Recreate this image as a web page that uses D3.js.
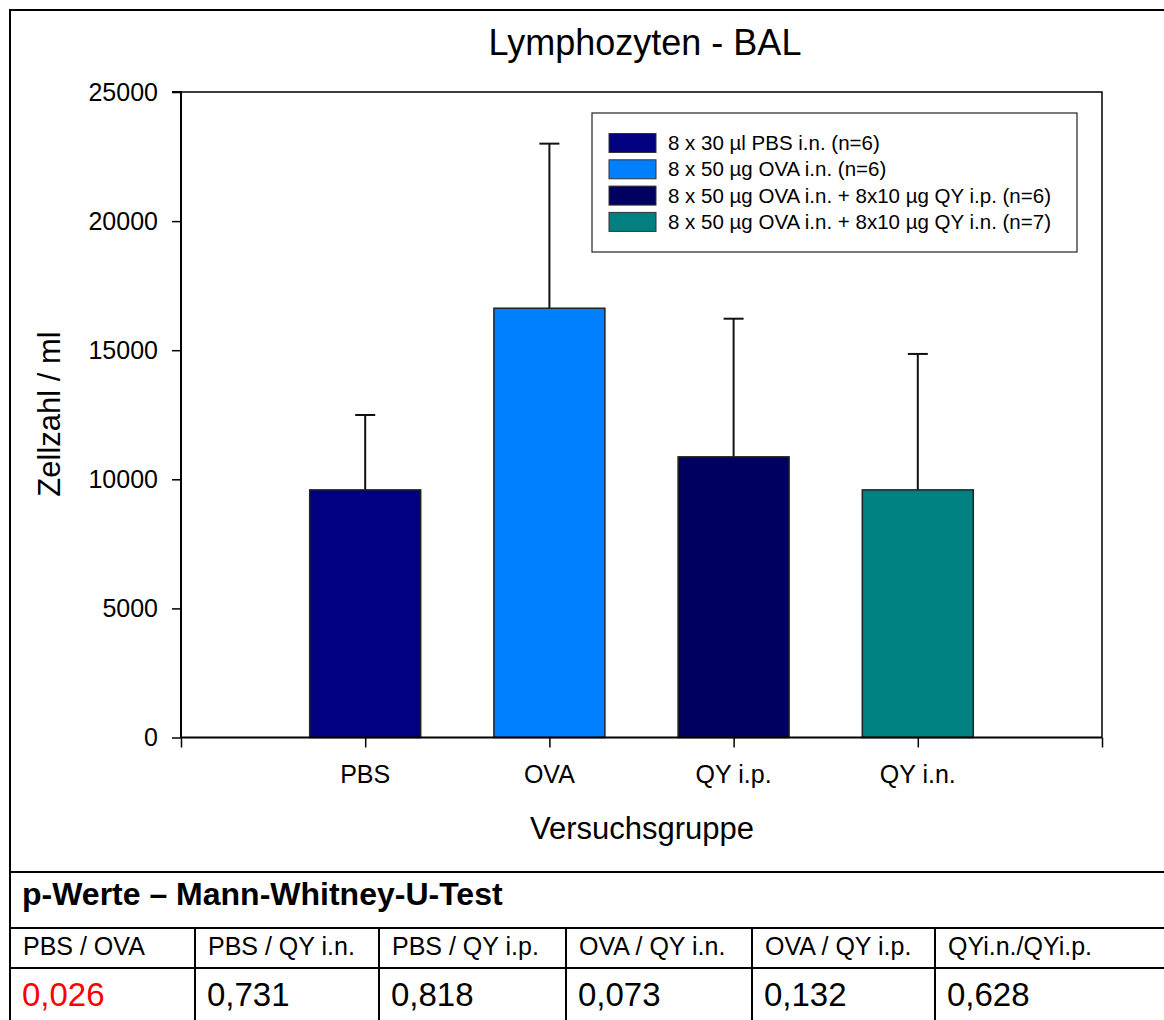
<!DOCTYPE html>
<html>
<head>
<meta charset="utf-8">
<script src="https://cdn.jsdelivr.net/npm/d3@7"></script>
<style>
  html, body { margin: 0; padding: 0; background: #fff; }
  svg { display: block; font-family: "Liberation Sans", Arial, sans-serif; }
</style>
</head>
<body>
<svg id="chart" width="1164" height="1020"></svg>
<script>
// Lymphocyte counts in BAL fluid, mean + SD per group
const groups = ["PBS", "OVA", "QY i.p.", "QY i.n."];
const means = [9590, 16625, 10870, 9590];
const sds = [2900, 6375, 5350, 5265];
const colors = ["#000080", "#0080ff", "#000060", "#008080"];
const legendLabels = [
  "8 x 30 µl PBS i.n. (n=6)",
  "8 x 50 µg OVA i.n. (n=6)",
  "8 x 50 µg OVA i.n. + 8x10 µg QY i.p. (n=6)",
  "8 x 50 µg OVA i.n. + 8x10 µg QY i.n. (n=7)"
];
const yTicks = [0, 5000, 10000, 15000, 20000, 25000];

// p-values of the pairwise Mann-Whitney U tests
const comparisons = ["PBS / OVA", "PBS / QY i.n.", "PBS / QY i.p.", "OVA / QY i.n.", "OVA / QY i.p.", "QYi.n./QYi.p."];
const pValues = ["0,026", "0,731", "0,818", "0,073", "0,132", "0,628"];
const significant = [true, false, false, false, false, false];

const svg = d3.select("#chart");

const plot = { left: 181, right: 1102, top: 92, bottom: 737.5 };

const x = d3.scaleLinear().domain([0, groups.length + 1]).range([plot.left, plot.right]);
const y = d3.scaleLinear().domain([0, 25000]).range([plot.bottom, plot.top]);
const barW = 111;

// outer frame
svg.append("line").attr("x1", 10).attr("x2", 1164).attr("y1", 10).attr("y2", 10)
  .attr("stroke", "#000").attr("stroke-width", 2);
svg.append("line").attr("x1", 10).attr("x2", 10).attr("y1", 9).attr("y2", 1020)
  .attr("stroke", "#000").attr("stroke-width", 2);

// title
svg.append("text").attr("x", 645).attr("y", 55).attr("text-anchor", "middle")
  .attr("font-size", 36).text("Lymphozyten - BAL");

// plot frame (top and right edges)
svg.append("path")
  .attr("d", `M${plot.left},${plot.top}H${plot.right}V${plot.bottom}`)
  .attr("fill", "none").attr("stroke", "#000").attr("stroke-width", 1.5);

// error bars (upper only)
const eb = svg.append("g").attr("stroke", "#111").attr("stroke-width", 2);
groups.forEach((g, i) => {
  const cx = x(i + 1);
  eb.append("line").attr("x1", cx).attr("x2", cx)
    .attr("y1", y(means[i])).attr("y2", y(means[i] + sds[i]));
  eb.append("line").attr("x1", cx - 10).attr("x2", cx + 10)
    .attr("y1", y(means[i] + sds[i])).attr("y2", y(means[i] + sds[i]));
});

// bars
svg.append("g").selectAll("rect").data(groups).join("rect")
  .attr("x", (d, i) => x(i + 1) - barW / 2)
  .attr("y", (d, i) => y(means[i]))
  .attr("width", barW)
  .attr("height", (d, i) => y(0) - y(means[i]))
  .attr("fill", (d, i) => colors[i])
  .attr("stroke", "#222").attr("stroke-width", 1.5);

// y axis
const yAxis = svg.append("g").attr("transform", `translate(${plot.left},0)`)
  .call(d3.axisLeft(y).tickValues(yTicks).tickSize(9).tickPadding(14).tickFormat(d3.format("d")));
yAxis.select(".domain").attr("stroke-width", 2).attr("d", `M-9,${plot.top}H0V${plot.bottom}`);
yAxis.selectAll(".tick line").attr("stroke-width", 1.5);
yAxis.selectAll("text").attr("font-size", 25).attr("font-family", "Liberation Sans, Arial, sans-serif").attr("fill", "#000");

// x axis
const xAxis = svg.append("g").attr("transform", `translate(0,${plot.bottom})`)
  .call(d3.axisBottom(x).tickValues(d3.range(0, groups.length + 2)).tickSize(10).tickFormat(""));
xAxis.select(".domain").attr("stroke-width", 2).attr("d", `M${plot.left},0H${plot.right}`);
xAxis.selectAll(".tick line").attr("stroke-width", 1.5);

svg.append("g").selectAll("text").data(groups).join("text")
  .attr("x", (d, i) => x(i + 1)).attr("y", 783)
  .attr("text-anchor", "middle").attr("font-size", 25).text(d => d);

// axis titles
svg.append("text").attr("x", 642).attr("y", 839).attr("text-anchor", "middle")
  .attr("font-size", 31).text("Versuchsgruppe");
svg.append("text").attr("transform", "translate(60,414) rotate(-90)")
  .attr("text-anchor", "middle").attr("font-size", 31).text("Zellzahl / ml");

// legend
const lg = svg.append("g");
lg.append("rect").attr("x", 592).attr("y", 113).attr("width", 485).attr("height", 139)
  .attr("fill", "#fff").attr("stroke", "#222").attr("stroke-width", 1.2);
legendLabels.forEach((t, i) => {
  const cy = 143 + i * 26.3;
  lg.append("rect").attr("x", 609).attr("y", cy - 9.5).attr("width", 47).attr("height", 19)
    .attr("fill", colors[i]).attr("stroke", "#333").attr("stroke-width", 1);
  lg.append("text").attr("x", 668).attr("y", cy + 7).attr("font-size", 20.5).text(t);
});

// p-value table
const tbl = svg.append("g");
const colX = [10, 195, 379, 566, 752, 935];
[872, 928, 968].forEach(yy => {
  tbl.append("line").attr("x1", 10).attr("x2", 1164).attr("y1", yy).attr("y2", yy)
    .attr("stroke", "#000").attr("stroke-width", 2);
});
colX.slice(1).forEach(xx => {
  tbl.append("line").attr("x1", xx).attr("x2", xx).attr("y1", 928).attr("y2", 1020)
    .attr("stroke", "#000").attr("stroke-width", 2);
});
tbl.append("text").attr("x", 22).attr("y", 905).attr("font-size", 32).attr("font-weight", "bold")
  .text("p-Werte – Mann-Whitney-U-Test");
comparisons.forEach((c, i) => {
  tbl.append("text").attr("x", colX[i] + 13).attr("y", 955).attr("font-size", 25).text(c);
  tbl.append("text").attr("x", colX[i] + 12).attr("y", 1006).attr("font-size", 33)
    .attr("fill", significant[i] ? "#ff0000" : "#000").text(pValues[i]);
});
</script>
</body>
</html>
